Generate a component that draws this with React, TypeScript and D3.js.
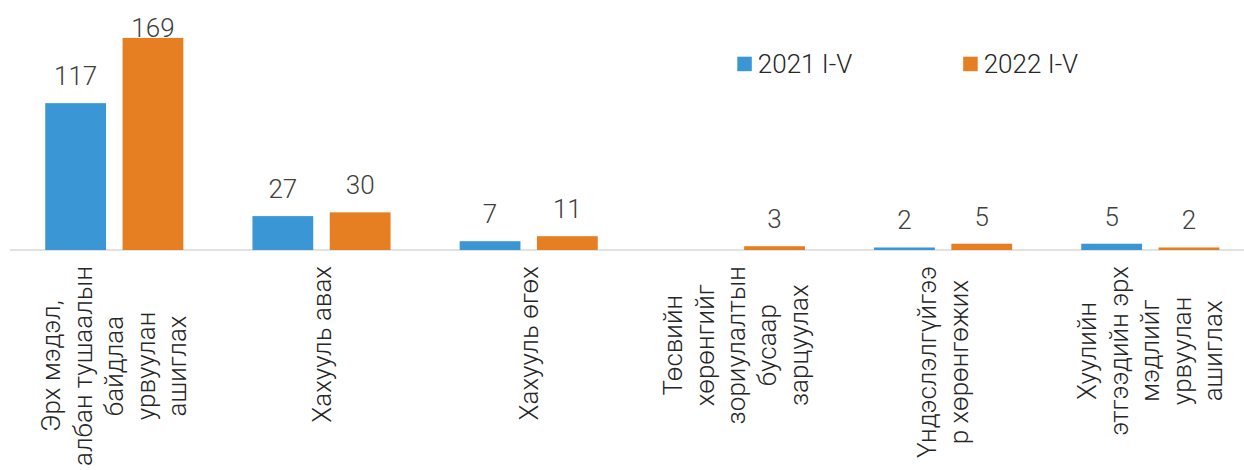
import React, { useEffect, useRef } from "react";
import * as d3 from "d3";

const W = 1244;
const H = 470;

const seriesNames = ["2021 I-V", "2022 I-V"];
const seriesColors = ["#3A96D4", "#E67E22"];

const categoryLines: string[][] = [
  ["Эрх мэдэл,", "албан тушаалын", "байдлаа", "урвуулан", "ашиглах"],
  ["Хахууль авах"],
  ["Хахууль өгөх"],
  ["Төсвийн", "хөрөнгийг", "зориулалтын", "бусаар", "зарцуулах"],
  ["Үндэслэлгүйгээ", "р хөрөнгөжих"],
  ["Хуулийн", "этгээдийн эрх", "мэдлийг", "урвуулан", "ашиглах"],
];

const values2021 = [117, 27, 7, 0, 2, 5];
const values2022 = [169, 30, 11, 3, 5, 2];

const FONT = "Roboto, 'Noto Sans', sans-serif";
const WEIGHT = 300;

export default function App() {
  const ref = useRef<SVGSVGElement>(null);

  useEffect(() => {
    const svg = d3.select(ref.current);
    svg.selectAll("*").remove();

    const baseY = 250;
    const x0 = d3
      .scaleBand<number>()
      .domain(d3.range(categoryLines.length))
      .range([10.7, 10.7 + 207.2 * categoryLines.length])
      .paddingInner(0)
      .paddingOuter(0);
    const x1 = d3
      .scaleBand<number>()
      .domain([0, 1])
      .range([0, x0.bandwidth()])
      .paddingInner(0.2135)
      .paddingOuter(0.447);
    const y = d3.scaleLinear().domain([0, 180]).range([baseY, baseY - 180 * 1.255]);

    const seriesValues = [values2021, values2022];

    // axis line
    svg
      .append("line")
      .attr("x1", 10)
      .attr("x2", W)
      .attr("y1", baseY)
      .attr("y2", baseY)
      .attr("stroke", "#D9D9D9")
      .attr("stroke-width", 1.5);

    // bars
    seriesValues.forEach((vals, s) => {
      const g = svg.append("g");
      g.selectAll("rect")
        .data(vals)
        .join("rect")
        .attr("x", (_, i) => (x0(i) as number) + (x1(s) as number))
        .attr("width", x1.bandwidth())
        .attr("y", (d) => y(d))
        .attr("height", (d) => baseY - y(d))
        .attr("fill", seriesColors[s]);

      g.selectAll("text")
        .data(vals.map((v, i) => ({ v, i })).filter((d) => d.v !== 0))
        .join("text")
        .attr("x", (d) => (x0(d.i) as number) + (x1(s) as number) + x1.bandwidth() / 2)
        .attr("y", (d) => Math.max(y(d.v) - 18, 36.5))
        .attr("text-anchor", "middle")
        .attr("font-family", FONT)
        .attr("font-weight", WEIGHT)
        .attr("font-size", 26)
        .attr("fill", "#404040")
        .text((d) => String(d.v));
    });

    // category labels
    const labelTop = 266;
    const lineH = 31.5;
    categoryLines.forEach((lines, i) => {
      const cx = (x0(i) as number) + x0.bandwidth() / 2;
      const g = svg
        .append("g")
        .attr("transform", `translate(${cx},${labelTop}) rotate(-90)`);
      const texts = g
        .selectAll("text")
        .data(lines)
        .join("text")
        .attr("y", (_, k) => (k - (lines.length - 1) / 2) * lineH)
        .attr("dy", "0.35em")
        .attr("text-anchor", "middle")
        .attr("font-family", FONT)
        .attr("font-weight", WEIGHT)
        .attr("font-size", 26)
        .attr("fill", "#262626")
        .text((d) => d);
      let maxW = 0;
      texts.each(function () {
        maxW = Math.max(maxW, (this as SVGTextElement).getComputedTextLength());
      });
      texts.attr("x", -maxW / 2);
    });

    // legend
    const legend = svg.append("g");
    seriesNames.forEach((name, s) => {
      const lx = 737.3 + s * 225.9;
      legend
        .append("rect")
        .attr("x", lx)
        .attr("y", 56.7)
        .attr("width", 14.5)
        .attr("height", 14.5)
        .attr("fill", seriesColors[s]);
      legend
        .append("text")
        .attr("x", lx + 20.5)
        .attr("y", 72.7)
        .attr("font-family", FONT)
        .attr("font-weight", WEIGHT)
        .attr("font-size", 26)
        .attr("fill", "#262626")
        .text(name);
    });
  }, []);

  return (
    <svg
      ref={ref}
      width={W}
      height={H}
      style={{ position: "absolute", left: 0, top: 0, display: "block", background: "#fff" }}
    />
  );
}
